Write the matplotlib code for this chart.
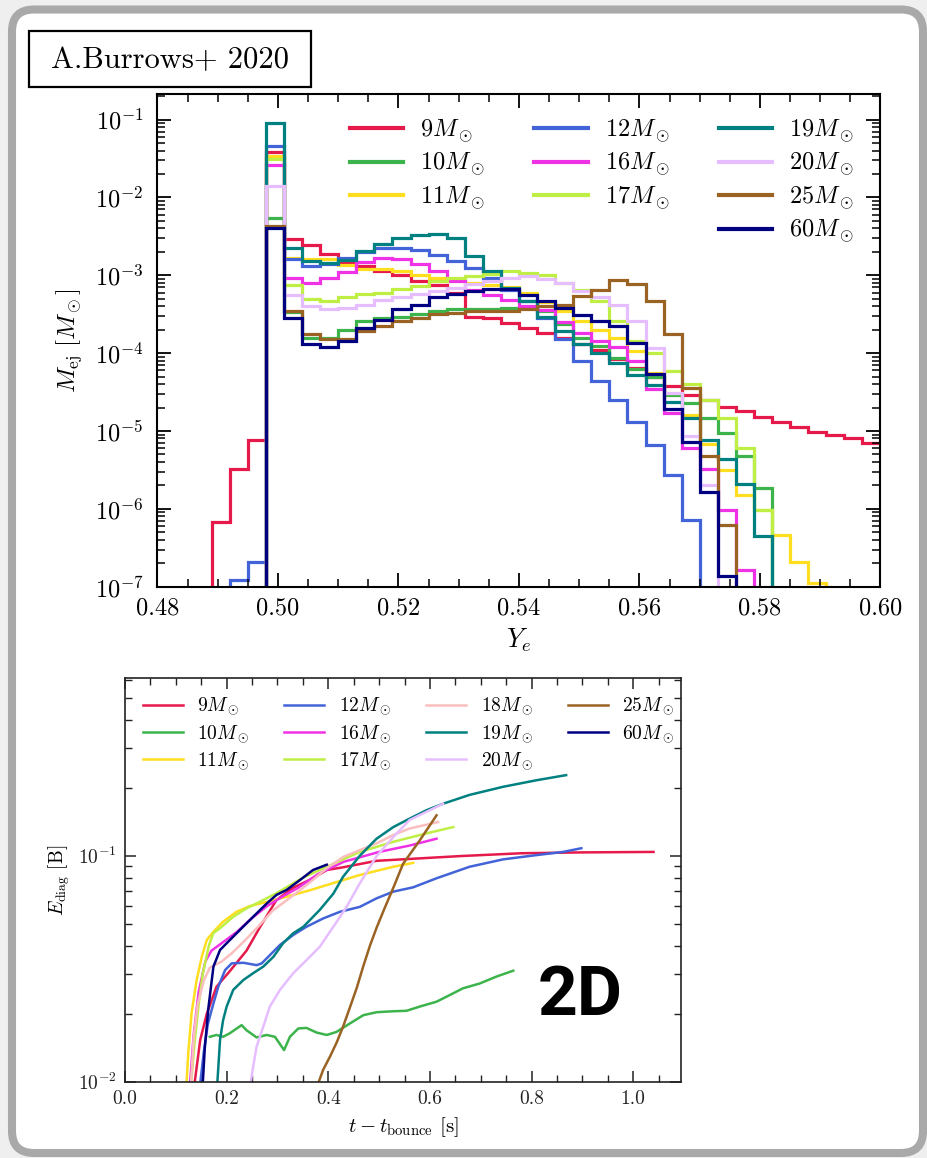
import numpy as np
import matplotlib
matplotlib.use("Agg")
import matplotlib.pyplot as plt
from matplotlib.patches import FancyBboxPatch, Rectangle
from matplotlib.lines import Line2D
from matplotlib.ticker import MultipleLocator, LogLocator, NullFormatter, FormatStrFormatter

plt.rcParams['font.family'] = 'serif'
plt.rcParams['font.serif'] = ['cmr10', 'DejaVu Serif']
plt.rcParams['mathtext.fontset'] = 'cm'
plt.rcParams['axes.unicode_minus'] = False
plt.rcParams['axes.formatter.use_mathtext'] = True

# ---------------- ejecta mass vs electron fraction (Ye histograms) ----------------
ye_lo, ye_hi, n_bins = 0.48, 0.60, 40

mej_9 = [0, 0, 0, 6.8e-7, 3.2e-6, 7.7e-6, 3.8e-2, 2.95e-3, 2.45e-3, 1.85e-3,
         1.5e-3, 1.3e-3, 1.15e-3, 1.0e-3, 8.5e-4, 7.5e-4, 6.0e-4, 2.9e-4, 2.85e-4, 2.45e-4,
         2.1e-4, 1.8e-4, 1.55e-4, 1.3e-4, 1.1e-4, 8.5e-5, 6.5e-5, 4.9e-5, 3.8e-5, 2.9e-5,
         2.5e-5, 2.05e-5, 1.78e-5, 1.53e-5, 1.32e-5, 1.14e-5, 9.8e-6, 8.9e-6, 8.0e-6, 6.9e-6]
mej_10 = [0, 0, 0, 0, 0, 0, 5.5e-3, 3.4e-4, 1.58e-4, 1.55e-4,
          2.0e-4, 2.6e-4, 2.8e-4, 2.95e-4, 3.2e-4, 3.5e-4, 3.65e-4, 3.7e-4, 3.7e-4, 3.8e-4,
          3.8e-4, 3.5e-4, 2.4e-4, 1.55e-4, 1.25e-4, 8.7e-5, 6.2e-5, 4.9e-5, 2.9e-5, 2.27e-5,
          1.46e-5, 9.3e-6, 4.8e-6, 1.83e-6, 0, 0, 0, 0, 0, 0]
mej_11 = [0, 0, 0, 0, 0, 0, 3.4e-2, 1.65e-3, 1.6e-3, 1.6e-3,
          1.35e-3, 1.22e-3, 1.2e-3, 1.12e-3, 1.02e-3, 9.3e-4, 8.6e-4, 8.0e-4, 7.6e-4, 7.0e-4,
          6.0e-4, 4.6e-4, 3.5e-4, 2.6e-4, 2.0e-4, 1.55e-4, 1.05e-4, 5.5e-5, 3.05e-5, 1.6e-5,
          6.8e-6, 3.15e-6, 1.5e-6, 9.7e-7, 4.6e-7, 2.1e-7, 1.1e-7, 0, 0, 0]
mej_12 = [0, 0, 0, 0, 1.2e-7, 2.1e-7, 4.6e-2, 1.64e-3, 1.32e-3, 1.38e-3,
          1.69e-3, 2.0e-3, 2.27e-3, 2.27e-3, 2.1e-3, 1.83e-3, 1.53e-3, 1.25e-3, 9.3e-4, 6.5e-4,
          4.7e-4, 2.8e-4, 1.5e-4, 8.0e-5, 4.4e-5, 2.5e-5, 1.32e-5, 6.6e-6, 2.7e-6, 7.2e-7,
          0, 0, 0, 0, 0, 0, 0, 0, 0, 0]
mej_16 = [0, 0, 0, 0, 0, 0, 2.6e-2, 9.1e-4, 7.9e-4, 9.3e-4,
          1.1e-3, 1.5e-3, 1.69e-3, 1.62e-3, 1.4e-3, 1.12e-3, 8.5e-4, 6.5e-4, 5.6e-4, 4.8e-4,
          4.0e-4, 3.6e-4, 2.5e-4, 1.8e-4, 1.45e-4, 1.2e-4, 7.9e-5, 3.5e-5, 1.69e-5, 6.0e-6,
          3.25e-6, 9.7e-7, 1.64e-7, 0, 0, 0, 0, 0, 0, 0]
mej_17 = [0, 0, 0, 0, 0, 0, 3.1e-2, 7.5e-4, 4.9e-4, 4.7e-4,
          5.3e-4, 5.7e-4, 6.0e-4, 6.6e-4, 7.3e-4, 8.4e-4, 9.3e-4, 9.8e-4, 1.05e-3, 1.14e-3,
          1.08e-3, 1.0e-3, 8.0e-4, 6.4e-4, 4.7e-4, 2.6e-4, 1.43e-4, 1.0e-4, 5.9e-5, 4.0e-5,
          2.5e-5, 1.46e-5, 6.0e-6, 9.7e-7, 0, 0, 0, 0, 0, 0]
mej_19 = [0, 0, 0, 0, 0, 0, 9.0e-2, 2.27e-3, 1.53e-3, 1.45e-3,
          1.56e-3, 2.06e-3, 2.5e-3, 3.05e-3, 3.3e-3, 3.43e-3, 3.05e-3, 1.77e-3, 1.14e-3, 6.9e-4,
          4.7e-4, 2.9e-4, 1.9e-4, 1.3e-4, 1.0e-4, 7.5e-5, 5.3e-5, 3.9e-5, 2.33e-5, 1.46e-5,
          7.7e-6, 4.3e-6, 2.1e-6, 4.5e-7, 0, 0, 0, 0, 0, 0]
mej_20 = [0, 0, 0, 0, 0, 0, 1.41e-2, 5.6e-4, 4.0e-4, 3.66e-4,
          3.84e-4, 4.2e-4, 4.8e-4, 5.2e-4, 5.7e-4, 6.3e-4, 6.95e-4, 7.7e-4, 8.45e-4, 9.3e-4,
          9.8e-4, 8.9e-4, 8.0e-4, 6.3e-4, 5.2e-4, 4.2e-4, 2.6e-4, 1.18e-4, 3.05e-5, 8.5e-6,
          2.0e-6, 0, 0, 0, 0, 0, 0, 0, 0, 0]
mej_25 = [0, 0, 0, 0, 0, 0, 4.3e-3, 3.5e-4, 1.78e-4, 1.5e-4,
          1.5e-4, 1.9e-4, 2.2e-4, 2.6e-4, 2.86e-4, 3.15e-4, 3.3e-4, 3.5e-4, 3.5e-4, 3.5e-4,
          3.7e-4, 4.0e-4, 4.2e-4, 5.4e-4, 6.5e-4, 8.6e-4, 7.8e-4, 4.7e-4, 1.75e-4, 3.6e-5,
          4.8e-6, 6.2e-7, 0, 0, 0, 0, 0, 0, 0, 0]
mej_60 = [0, 0, 0, 0, 0, 0, 4.0e-3, 2.8e-4, 1.3e-4, 1.2e-4,
          1.43e-4, 2.1e-4, 2.7e-4, 3.65e-4, 4.2e-4, 5.2e-4, 5.7e-4, 6.3e-4, 6.6e-4, 6.6e-4,
          5.6e-4, 4.7e-4, 3.85e-4, 3.1e-4, 2.6e-4, 2.2e-4, 1.36e-4, 5.4e-5, 1.9e-5, 7.3e-6,
          1.66e-6, 1.35e-7, 0, 0, 0, 0, 0, 0, 0, 0]

top_models = ['9', '10', '11', '12', '16', '17', '19', '20', '25', '60']
top_series = [mej_9, mej_10, mej_11, mej_12, mej_16, mej_17, mej_19, mej_20, mej_25, mej_60]

colors = {
    '9': '#e6194b', '10': '#3cb44b', '11': '#ffdd1f', '12': '#4363d8',
    '16': '#f032e6', '17': '#bfef45', '18': '#fabebe', '19': '#008080',
    '20': '#e6beff', '25': '#9a6324', '60': '#000080',
}

# ---------------- diagnostic explosion energy vs time after bounce ----------------
t_9 = [0.136, 0.148, 0.161, 0.180, 0.207, 0.239, 0.266, 0.298, 0.33, 0.37, 0.397, 0.43, 0.495, 0.66, 0.78, 0.9, 1.04]
e_9 = [0.0095, 0.0153, 0.020, 0.0263, 0.031, 0.038, 0.0485, 0.0637, 0.072, 0.0795, 0.0865, 0.089, 0.095, 0.0997, 0.1026, 0.1035, 0.104]

t_10 = [0.167, 0.180, 0.193, 0.2065, 0.2295, 0.239, 0.259, 0.279, 0.295, 0.313, 0.3245, 0.341, 0.357, 0.377,
        0.397, 0.416, 0.4425, 0.469, 0.495, 0.528, 0.554, 0.58, 0.613, 0.633, 0.665, 0.698, 0.731, 0.764]
e_10 = [0.0158, 0.0161, 0.0158, 0.0164, 0.0178, 0.0169, 0.0157, 0.0161, 0.0158, 0.0138, 0.0158, 0.0172, 0.0173, 0.0165,
        0.0161, 0.0166, 0.0181, 0.0197, 0.0203, 0.0205, 0.0206, 0.0215, 0.0226, 0.0238, 0.0259, 0.0272, 0.0292, 0.031]

t_11 = [0.121, 0.1245, 0.131, 0.141, 0.151, 0.161, 0.174, 0.193, 0.2196, 0.2458, 0.279, 0.318, 0.364, 0.397, 0.462, 0.528, 0.567]
e_11 = [0.0098, 0.0134, 0.0201, 0.0282, 0.0357, 0.0424, 0.0461, 0.0511, 0.0565, 0.0599, 0.0625, 0.0659, 0.0704, 0.0742, 0.0822, 0.0894, 0.093]

t_12 = [0.148, 0.155, 0.163, 0.1735, 0.1835, 0.197, 0.21, 0.233, 0.259, 0.269, 0.285, 0.305, 0.331, 0.357, 0.39,
        0.423, 0.462, 0.495, 0.528, 0.567, 0.613, 0.678, 0.744, 0.81, 0.862, 0.898]
e_12 = [0.0098, 0.0135, 0.018, 0.022, 0.0263, 0.0312, 0.0334, 0.0336, 0.0328, 0.0334, 0.0363, 0.0403, 0.0446, 0.0485, 0.0528,
        0.0565, 0.0594, 0.0648, 0.0694, 0.0725, 0.0795, 0.0894, 0.0964, 0.1007, 0.104, 0.108]

t_16 = [0.128, 0.135, 0.145, 0.158, 0.17, 0.19, 0.22, 0.25, 0.28, 0.31, 0.34, 0.38, 0.43, 0.5, 0.56, 0.613]
e_16 = [0.0098, 0.016, 0.025, 0.034, 0.038, 0.041, 0.046, 0.053, 0.060, 0.066, 0.072, 0.083, 0.094, 0.104, 0.111, 0.119]

t_17 = [0.13, 0.137, 0.145, 0.153, 0.165, 0.1736, 0.187, 0.213, 0.239, 0.265, 0.298, 0.35, 0.397, 0.462, 0.528, 0.593, 0.646]
e_17 = [0.0098, 0.015, 0.022, 0.030, 0.040, 0.0454, 0.0478, 0.0537, 0.0585, 0.0625, 0.0683, 0.080, 0.0894, 0.104, 0.1153, 0.1256, 0.134]

t_18 = [0.13, 0.135, 0.143, 0.155, 0.167, 0.19, 0.21, 0.235, 0.26, 0.29, 0.32, 0.36, 0.397, 0.43, 0.495, 0.528, 0.56, 0.616]
e_18 = [0.0098, 0.0155, 0.022, 0.028, 0.032, 0.034, 0.037, 0.042, 0.048, 0.057, 0.064, 0.075, 0.088, 0.099, 0.1135, 0.1236, 0.132, 0.141]

t_19 = [0.1816, 0.187, 0.193, 0.2, 0.213, 0.233, 0.252, 0.272, 0.292, 0.311, 0.331, 0.351, 0.383, 0.41, 0.429,
        0.462, 0.495, 0.528, 0.56, 0.593, 0.626, 0.678, 0.744, 0.81, 0.868]
e_19 = [0.0098, 0.0153, 0.0187, 0.0215, 0.0255, 0.0282, 0.0302, 0.0323, 0.0357, 0.041, 0.0454, 0.0485, 0.0575, 0.068, 0.0807,
        0.1, 0.119, 0.134, 0.146, 0.159, 0.17, 0.186, 0.202, 0.216, 0.2275]

t_20 = [0.247, 0.252, 0.259, 0.272, 0.285, 0.305, 0.331, 0.357, 0.383, 0.41, 0.436, 0.462, 0.495, 0.528, 0.56, 0.626]
e_20 = [0.0098, 0.0116, 0.0143, 0.0175, 0.0215, 0.0255, 0.0302, 0.0345, 0.0395, 0.0485, 0.0594, 0.0755, 0.0996, 0.121, 0.144, 0.17]

t_25 = [0.38, 0.39, 0.404, 0.417, 0.429, 0.4425, 0.456, 0.469, 0.482, 0.495, 0.51, 0.53, 0.547, 0.58, 0.613]
e_25 = [0.0098, 0.0113, 0.013, 0.015, 0.0175, 0.0213, 0.026, 0.0325, 0.040, 0.048, 0.058, 0.074, 0.092, 0.117, 0.151]

t_60 = [0.153, 0.157, 0.164, 0.174, 0.187, 0.2, 0.2196, 0.239, 0.259, 0.279, 0.298, 0.318, 0.344, 0.370, 0.397]
e_60 = [0.0098, 0.0141, 0.0211, 0.0323, 0.0383, 0.041, 0.0454, 0.0502, 0.0556, 0.0615, 0.0671, 0.0706, 0.078, 0.0865, 0.0913]

bottom_models = ['9', '10', '11', '12', '16', '17', '18', '19', '20', '25', '60']
bottom_t = [t_9, t_10, t_11, t_12, t_16, t_17, t_18, t_19, t_20, t_25, t_60]
bottom_e = [e_9, e_10, e_11, e_12, e_16, e_17, e_18, e_19, e_20, e_25, e_60]

# ---------------- figure and card background ----------------
W, H = 928, 1158
fig = plt.figure(figsize=(W / 100, H / 100), dpi=100)
fig.patch.set_facecolor('#efefef')

bg = fig.add_axes([0, 0, 1, 1], zorder=0)
bg.set_xlim(0, W)
bg.set_ylim(H, 0)
bg.axis('off')
bg.add_patch(FancyBboxPatch((12, 9.5), 911, 1143.5,
                            boxstyle='round,pad=0,rounding_size=22',
                            fc='white', ec='#a9a9a9', lw=5.8))
bg.add_patch(Rectangle((29, 31), 282, 56, fc='white', ec='black', lw=1.6))
bg.text(170, 60, 'A.Burrows+ 2020', fontsize=22, ha='center', va='center',
        family='cmr10')

# ---------------- top panel ----------------
ax1 = fig.add_axes([0.1697, 0.4934, 0.7791, 0.4250], zorder=1)
edges = np.linspace(ye_lo, ye_hi, n_bins + 1)
floor = 1e-12
for m, vals in zip(top_models, top_series):
    v = np.array(vals, dtype=float)
    v[v <= 0] = floor
    ax1.stairs(v, edges, color=colors[m], lw=2.3, baseline=None)

ax1.set_yscale('log')
ax1.set_xlim(ye_lo, ye_hi)
ax1.set_ylim(1e-7, 0.21)
ax1.xaxis.set_major_locator(MultipleLocator(0.02))
ax1.xaxis.set_minor_locator(MultipleLocator(0.005))
ax1.xaxis.set_major_formatter(FormatStrFormatter('%.2f'))
ax1.yaxis.set_major_locator(LogLocator(base=10, numticks=20))
ax1.yaxis.set_minor_locator(LogLocator(base=10, subs=np.arange(2, 10), numticks=20))
ax1.yaxis.set_minor_formatter(NullFormatter())
ax1.tick_params(which='both', direction='in', top=True, right=True, labelsize=17.5)
ax1.tick_params(which='major', length=10, width=1.3)
ax1.tick_params(which='minor', length=6, width=1.1)
ax1.tick_params(axis='x', pad=8)
ax1.tick_params(axis='y', pad=10)
for s in ax1.spines.values():
    s.set_linewidth(1.5)
ax1.set_xlabel(r'$Y_e$', fontsize=19, labelpad=5)
ax1.set_ylabel(r'$M_{\rm ej}\ [M_\odot]$', fontsize=18, labelpad=8)

handles = []
for m in ['9', '10', '11', None, '12', '16', '17', None, '19', '20', '25', '60']:
    if m is None:
        handles.append(Line2D([], [], color='none', label=' '))
    else:
        handles.append(Line2D([], [], color=colors[m], lw=3, label=r'$%s M_\odot$' % m))
ax1.legend(handles=handles, ncol=3, loc='upper left', bbox_to_anchor=(0.2494, 0.978),
           frameon=False, fontsize=17.5, borderpad=0, handlelength=2.2,
           handletextpad=0.7, columnspacing=2.0, labelspacing=0.26)

# ---------------- bottom panel ----------------
ax2 = fig.add_axes([0.1347, 0.0659, 0.5991, 0.3483], zorder=1)
for m, tt, ee in zip(bottom_models, bottom_t, bottom_e):
    ax2.plot(tt, ee, color=colors[m], lw=1.8, label=r'$%s M_\odot$' % m)

ax2.set_yscale('log')
ax2.set_xlim(0, 1.094)
ax2.set_ylim(0.01, 0.61)
ax2.xaxis.set_major_locator(MultipleLocator(0.2))
ax2.xaxis.set_minor_locator(MultipleLocator(0.05))
ax2.xaxis.set_major_formatter(FormatStrFormatter('%.1f'))
ax2.yaxis.set_major_locator(LogLocator(base=10, numticks=10))
ax2.yaxis.set_minor_locator(LogLocator(base=10, subs=np.arange(2, 10), numticks=10))
ax2.yaxis.set_minor_formatter(NullFormatter())
ax2.tick_params(which='both', direction='in', top=True, right=True, labelsize=14, colors='#222222')
ax2.tick_params(which='major', length=8, width=1.1)
ax2.tick_params(which='minor', length=5, width=1.0)
ax2.tick_params(axis='x', pad=6)
ax2.tick_params(axis='y', pad=6)
for s in ax2.spines.values():
    s.set_linewidth(1.2)
    s.set_color('#222222')
ax2.set_xlabel(r'$t - t_{\rm bounce}$ [s]', fontsize=15, labelpad=5)
ax2.set_ylabel(r'$E_{\rm diag}$ [B]', fontsize=14, labelpad=4)
ax2.legend(ncol=4, loc='upper left', bbox_to_anchor=(0.014, 0.98), frameon=False,
           fontsize=14, borderpad=0, handlelength=2.06, handletextpad=0.75,
           columnspacing=1.78, labelspacing=0.31)

ax2.text(0.818, 0.21, '2D', transform=ax2.transAxes, fontsize=50,
         fontweight='bold', family='Roboto', ha='center', va='center')

fig.savefig('out.png', dpi=100, facecolor=fig.get_facecolor())
